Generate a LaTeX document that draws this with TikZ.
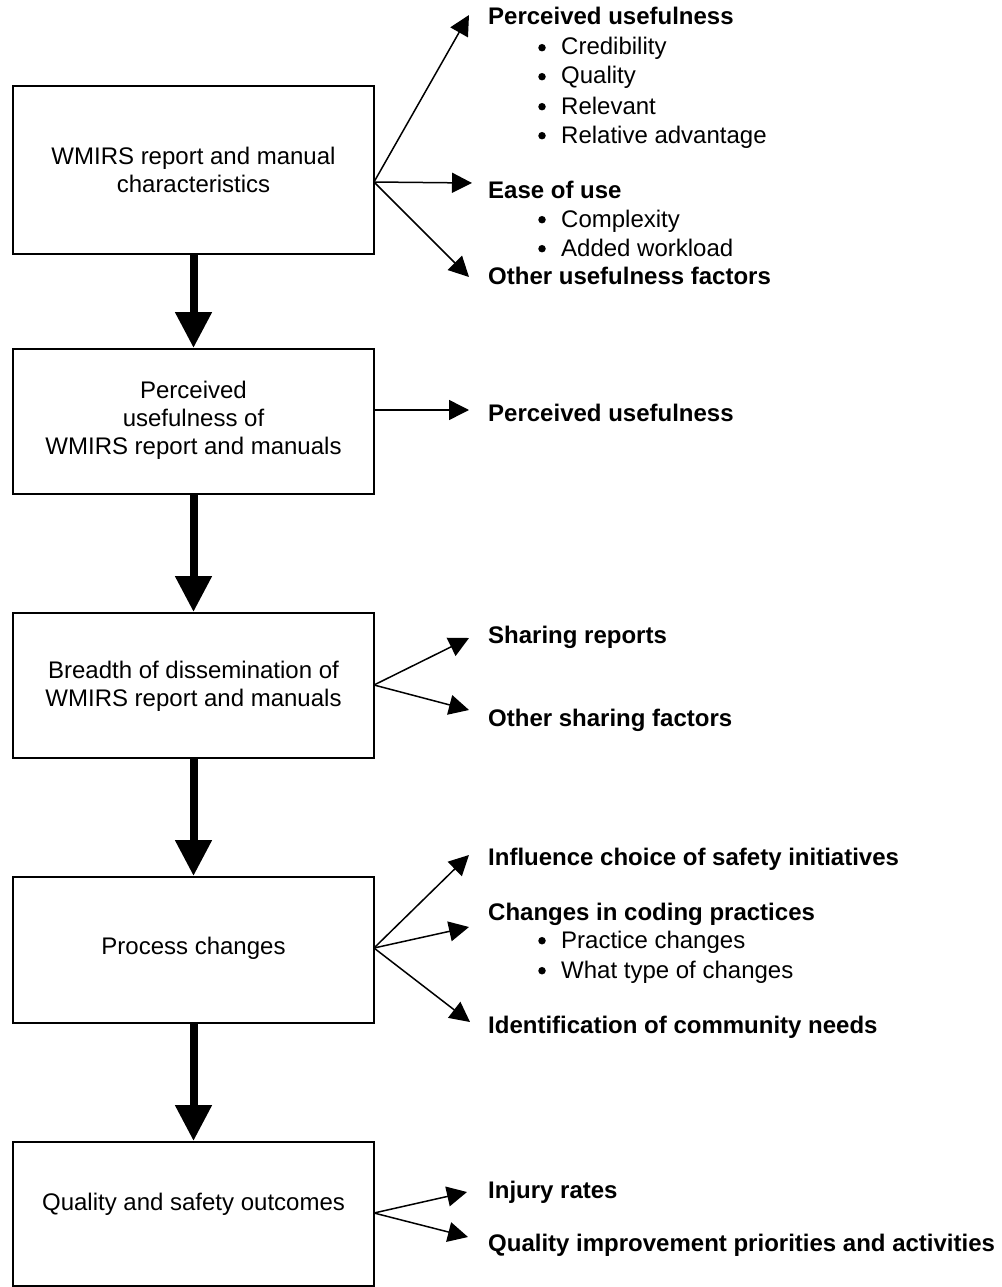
\documentclass[tikz,border=0pt]{standalone}
\usepackage{fontspec}
\setmainfont{Liberation Sans}
\usetikzlibrary{arrows.meta}
\begin{document}
\begin{tikzpicture}[x=1pt,y=-1pt,
  box/.style={draw,line width=2pt,minimum width=361pt,inner sep=0pt},
  boxtext/.style={align=center,font=\fontsize{24}{28}\selectfont,inner sep=0pt},
  flow/.style={line width=8pt,-{Triangle[length=36pt,width=35pt]}},
  branch/.style={line width=1.5pt,-{Triangle[length=20pt,width=20pt]}},
  head/.style={anchor=base west,inner sep=0pt,font=\fontsize{24}{28}\selectfont\bfseries},
  item/.style={anchor=base west,inner sep=0pt,font=\fontsize{24}{28}\selectfont},
  dot/.style={circle,fill,inner sep=0pt,minimum size=7.5pt,yshift=7.3pt}
]
\useasboundingbox (0,0) rectangle (1001,1287);
% boxes
\node[box,minimum height=168pt] (b1) at (193.5,170) {};
\node[box,minimum height=145pt] (b2) at (193.5,421.5) {};
\node[box,minimum height=145pt] (b3) at (193.5,685.5) {};
\node[box,minimum height=146pt] (b4) at (193.5,950) {};
\node[box,minimum height=144pt] (b5) at (193.5,1214) {};
% box texts
\node[boxtext] (t1) at (193.5,170) {WMIRS report and manual\\characteristics};
\node[boxtext] (t2) at (193.5,420) {Perceived\\usefulness of\\WMIRS report and manuals};
\node[boxtext] (t3) at (193.5,686) {Breadth of dissemination of\\WMIRS report and manuals};
\node[boxtext] (t4) at (193.5,948) {Process changes};
\node[boxtext] (t5) at (193.5,1204) {Quality and safety outcomes};
% flow arrows
\draw[flow] (b1.south) -- (b2.north);
\draw[flow] (b2.south) -- (b3.north);
\draw[flow] (b3.south) -- (b4.north);
\draw[flow] (b4.south) -- (b5.north);
% branch origins and tips
\coordinate (o1) at (374,182);
\coordinate (o2) at (374,410);
\coordinate (o3) at (374,685);
\coordinate (o4) at (374,948);
\coordinate (o5) at (374,1213);
\coordinate (p1a) at (469,15);
\coordinate (p1b) at (472,183);
\coordinate (p1c) at (469,277);
\coordinate (p2a) at (469,410);
\coordinate (p3a) at (469,638);
\coordinate (p3b) at (469,710);
\coordinate (p4a) at (469,855);
\coordinate (p4b) at (469,927);
\coordinate (p4c) at (470,1022);
\coordinate (p5a) at (467,1192);
\coordinate (p5b) at (468,1237);
\foreach \a/\b in {o1/p1a,o1/p1b,o1/p1c,o2/p2a,o3/p3a,o3/p3b,o4/p4a,o4/p4b,o4/p4c,o5/p5a,o5/p5b}
  \draw[branch] (\a) -- (\b);
% right texts, group 1
\node[head] (h1) at (488,25) {Perceived usefulness};
\node[dot] (d1) at (542,55) {};
\node[item] (i1) at (561,55) {Credibility};
\node[dot] (d2) at (542,84) {};
\node[item] (i2) at (561,84) {Quality};
\node[dot] (d3) at (542,114) {};
\node[item] (i3) at (561,114) {Relevant};
\node[dot] (d4) at (542,143) {};
\node[item] (i4) at (561,143) {Relative advantage};
\node[head] (h2) at (488,198) {Ease of use};
\node[dot] (d5) at (542,227) {};
\node[item] (i5) at (561,227) {Complexity};
\node[dot] (d6) at (542,256) {};
\node[item] (i6) at (561,256) {Added workload};
\node[head] (h3) at (488,284) {Other usefulness factors};
% group 2
\node[head] (h4) at (488,421) {Perceived usefulness};
% group 3
\node[head] (h5) at (488,643) {Sharing reports};
\node[head] (h6) at (488,726) {Other sharing factors};
% group 4
\node[head] (h7) at (488,865) {Influence choice of safety initiatives};
\node[head] (h8) at (488,920) {Changes in coding practices};
\node[dot] (d7) at (542,948) {};
\node[item] (i7) at (561,948) {Practice changes};
\node[dot] (d8) at (542,978) {};
\node[item] (i8) at (561,978) {What type of changes};
\node[head] (h9) at (488,1033) {Identification of community needs};
% group 5
\node[head] (h10) at (488,1198) {Injury rates};
\node[head] (h11) at (488,1251) {Quality improvement priorities and activities};
\end{tikzpicture}
\end{document}
